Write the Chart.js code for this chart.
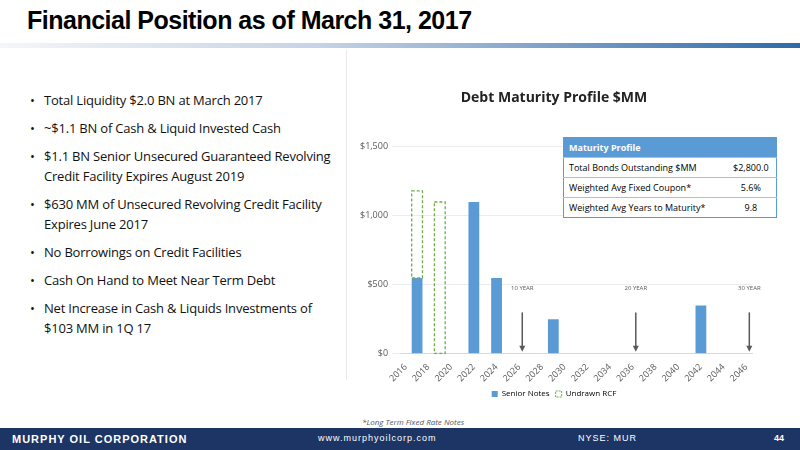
<!DOCTYPE html>
<html><head><meta charset="utf-8">
<script src="https://cdn.jsdelivr.net/npm/chart.js@4"></script>
<style>
body{margin:0;width:800px;height:450px;position:relative;overflow:hidden;background:#fff;font-family:"Open Sans",Calibri,sans-serif}
#title{position:absolute;left:27px;top:6px;font:bold 25px "Liberation Sans",Arial,sans-serif;letter-spacing:-0.5px;color:#000}
#rule{position:absolute;left:0;top:43px;width:800px;height:5px;background:linear-gradient(to right,#f4f6f9,#c5d3e5 40%,#2f6aa8)}
#divider{position:absolute;left:346px;top:50px;width:1px;height:330px;background:#e8e8e8}
ul{position:absolute;left:30px;top:90px;margin:0;padding:0;list-style:none;width:310px}
li{font-size:13px;line-height:20px;margin-bottom:8px;padding-left:14px;text-indent:-14px;color:#111;letter-spacing:-0.2px}
li:before{content:"•";display:inline-block;width:14px;text-indent:0}
#wrap{position:absolute;left:356px;top:86px;width:412px;height:322px}
#tbl{position:absolute;left:563px;top:137px;width:214px;border-collapse:collapse;font-size:9px;background:#fff;border:1px solid #5b9bd5}
#tbl td{padding:2px 5px;border-top:1px solid #9dc3e6;height:15px}
#tbl th{background:#5b9bd5;color:#fff;text-align:left;padding:2px 5px;height:15px}
#note{position:absolute;left:362px;top:416px;font-size:8px;font-style:italic;color:#555}
#foot{position:absolute;left:0;top:428px;width:800px;height:22px;background:#1c3564;color:#fff;font-family:"Liberation Sans",Arial,sans-serif}
#foot span{position:absolute;top:5px;font-size:10px}
</style></head><body>
<div id="title">Financial Position as of March 31, 2017</div>
<div id="rule"></div>
<div id="divider"></div>
<ul>
<li>Total Liquidity $2.0 BN at March 2017</li>
<li>~$1.1 BN of Cash &amp; Liquid Invested Cash</li>
<li>$1.1 BN Senior Unsecured Guaranteed Revolving Credit Facility Expires August 2019</li>
<li>$630 MM of Unsecured Revolving Credit Facility Expires June 2017</li>
<li>No Borrowings on Credit Facilities</li>
<li>Cash On Hand to Meet Near Term Debt</li>
<li>Net Increase in Cash &amp; Liquids Investments of $103 MM in 1Q 17</li>
</ul>
<div id="wrap"><canvas id="c"></canvas></div>
<table id="tbl">
<tr><th colspan="2">Maturity Profile</th></tr>
<tr><td>Total Bonds Outstanding $MM</td><td style="text-align:center">$2,800.0</td></tr>
<tr><td>Weighted Avg Fixed Coupon*</td><td style="text-align:center">5.6%</td></tr>
<tr><td>Weighted Avg Years to Maturity*</td><td style="text-align:center">9.8</td></tr>
</table>
<div id="note">*Long Term Fixed Rate Notes</div>
<div id="foot"><span style="left:12px;font-weight:bold;font-size:11px;letter-spacing:1px">MURPHY OIL CORPORATION</span><span style="left:318px;letter-spacing:1px;font-size:9px">www.murphyoilcorp.com</span><span style="left:578px;letter-spacing:1px;font-size:9px">NYSE: MUR</span><span style="left:774px;font-size:9px;font-weight:bold">44</span></div>
<script>
const years = [];
for (let y = 2016; y <= 2046; y++) years.push(String(y));
const seniorNotes = {2017: 550, 2022: 1100, 2024: 550, 2029: 250, 2042: 350};
const undrawnRCF = {2017: 630, 2019: 1100};
const yTicks = [0, 500, 1000, 1500];
const markers = [{year: '2026', label: '10 YEAR'}, {year: '2036', label: '20 YEAR'}, {year: '2046', label: '30 YEAR'}];

// bars in Chart.js don't take borderDash, so the RCF outline is stroked here
const dashPlugin = {
    id: 'dashed',
    afterDatasetsDraw(chart) {
        const ctx = chart.ctx;
        ctx.save();
        ctx.strokeStyle = '#70ad47'; ctx.lineWidth = 1.3; ctx.setLineDash([3, 2]);
        chart.getDatasetMeta(1).data.forEach((bar, i) => {
            if (chart.data.datasets[1].data[i] == null) return;
            const p = bar.getProps(['x', 'y', 'base', 'width']);
            ctx.strokeRect(p.x - p.width / 2, p.y, p.width, p.base - p.y);
        });
        ctx.restore();
    }
};

const arrowPlugin = {
    id: 'arrows',
    afterDatasetsDraw(chart) {
        const ctx = chart.ctx, x = chart.scales.x, y = chart.scales.y;
        ctx.save();
        markers.forEach(m => {
            const px = x.getPixelForValue(years.indexOf(m.year)) + 3;
            const top = y.getPixelForValue(300), bot = y.getPixelForValue(15);
            ctx.strokeStyle = '#595959'; ctx.fillStyle = '#595959'; ctx.lineWidth = 1.5;
            ctx.beginPath(); ctx.moveTo(px, top); ctx.lineTo(px, bot - 5); ctx.stroke();
            ctx.beginPath(); ctx.moveTo(px - 3, bot - 6); ctx.lineTo(px + 3, bot - 6); ctx.lineTo(px, bot); ctx.fill();
            ctx.font = '6px "Open Sans"'; ctx.textAlign = 'center';
            ctx.fillText(m.label, px, y.getPixelForValue(500) + 3);
        });
        ctx.restore();
    }
};

new Chart(document.getElementById('c'), {
    type: 'bar',
    data: {
        labels: years,
        datasets: [
            { label: 'Senior Notes', data: years.map(y => seniorNotes[y] || null), backgroundColor: '#5b9bd5', stack: 's', barPercentage: 1, categoryPercentage: 0.95 },
            { label: 'Undrawn RCF', data: years.map(y => undrawnRCF[y] || null), backgroundColor: 'rgba(0,0,0,0)', borderWidth: 0, stack: 's', barPercentage: 1, categoryPercentage: 0.95 }
        ]
    },
    options: {
        responsive: true, maintainAspectRatio: false, animation: false,
        layout: { padding: { top: 0, right: 16 } },
        plugins: {
            title: { display: true, text: 'Debt Maturity Profile $MM', font: { size: 14, weight: 'bold', family: 'Open Sans' }, color: '#222', padding: { top: 4, bottom: 40 } },
            legend: { position: 'bottom', labels: { padding: 6, boxWidth: 6, boxHeight: 6, font: { size: 8, family: 'Open Sans' }, color: '#595959',
                generateLabels: () => [
                    { text: 'Senior Notes', fillStyle: '#5b9bd5', strokeStyle: '#5b9bd5', lineWidth: 0 },
                    { text: 'Undrawn RCF', fillStyle: '#fff', strokeStyle: '#70ad47', lineWidth: 1, lineDash: [2, 1] }
                ] } },
            tooltip: { enabled: false }
        },
        scales: {
            x: { stacked: true, grid: { display: false }, border: { color: '#d9d9d9' },
                ticks: { autoSkip: false, maxRotation: 45, minRotation: 45, font: { size: 9, family: 'Open Sans' }, color: '#595959', padding: 0,
                    callback: function(v, i) { return i % 2 === 0 ? years[i] : ''; } } },
            y: { stacked: true, min: 0, max: 1500, grid: { color: '#ececec' }, border: { display: false },
                afterBuildTicks: s => { s.ticks = yTicks.map(v => ({ value: v })); },
                ticks: { font: { size: 9, family: 'Open Sans' }, color: '#595959', padding: 4, callback: v => '$' + v.toLocaleString('en-US') } }
        }
    },
    plugins: [dashPlugin, arrowPlugin]
});
</script>
</body></html>
